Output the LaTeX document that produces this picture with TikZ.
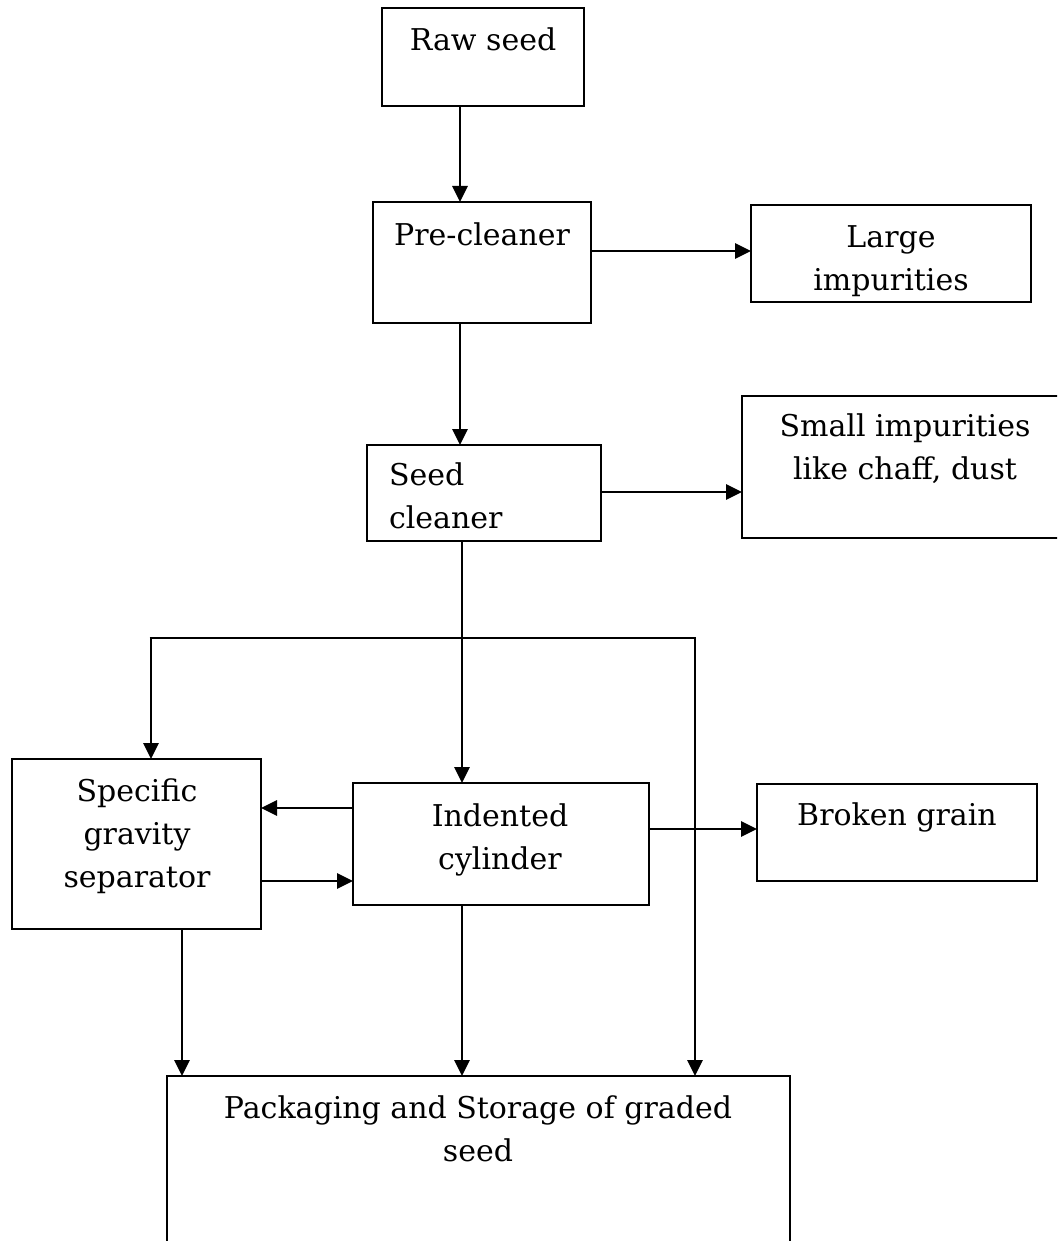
\documentclass[tikz,border=0pt]{standalone}
\usepackage{fontspec}
\setmainfont{DejaVu Serif}
\usetikzlibrary{arrows.meta}
\newcommand{\tp}{\rule{0pt}{24pt}}
\tikzset{
  box/.style={draw, line width=2.6pt, inner sep=0pt, outer sep=0pt, anchor=north west},
  lbl/.style={inner sep=0pt, outer sep=0pt, anchor=north, align=center, font=\fontsize{30}{43}\selectfont},
  lbll/.style={lbl, align=left, anchor=north west},
  conn/.style={line width=2.8pt},
  arr/.style={conn, -{Triangle[length=16pt,width=15pt]}}
}
\begin{document}
\begin{tikzpicture}[x=1pt,y=-1pt]
\useasboundingbox (0,0) rectangle (1057,1241);
\clip (0,0) rectangle (1057,1241);
\fill[white] (0,0) rectangle (1057,1241);
% boxes
\node[box, minimum width=202pt, minimum height=98pt] (raw) at (382,8) {};
\node[box, minimum width=218pt, minimum height=121pt] (pre) at (373,202) {};
\node[box, minimum width=280pt, minimum height=97pt] (large) at (751,205) {};
\node[box, minimum width=234pt, minimum height=96pt] (seed) at (367,445) {};
\node[box, minimum width=340pt, minimum height=142pt] (small) at (742,396) {};
\node[box, minimum width=249pt, minimum height=170pt] (spec) at (12,759) {};
\node[box, minimum width=296pt, minimum height=122pt] (ind) at (353,783) {};
\node[box, minimum width=280pt, minimum height=97pt] (broken) at (757,784) {};
\node[box, minimum width=623pt, minimum height=200pt] (pack) at (167,1076) {};
% labels
\node[lbl] (rawT) at (483,51-24) {\tp Raw seed};
\node[lbl] (preT) at (482,245-24) {\tp Pre-cleaner};
\node[lbl] (largeT) at (891,247-24) {\tp Large\\impurities};
\node[lbll] (seedT) at (389,485-24) {\tp Seed\\cleaner};
\node[lbl] (smallT) at (905,436-24) {\tp Small impurities\\like chaff, dust};
\node[lbl] (specT) at (137,801-24) {\tp Specific\\gravity\\separator};
\node[lbl] (indT) at (500,826-24) {\tp Indented\\cylinder};
\node[lbl] (brokenT) at (897,825-24) {\tp Broken grain};
\node[lbl] (packT) at (478,1118-24) {\tp Packaging and Storage of graded\\seed};
% helper coordinates
\coordinate (cA) at (460,0);
\coordinate (cB) at (462,0);
\coordinate (cL) at (151,638);
\coordinate (cR) at (695,638);
\coordinate (cS) at (182,0);
% connectors
\draw[arr] (raw.south -| cA) -- (pre.north -| cA);
\draw[arr] (pre.east |- 0,251) -- (large.west |- 0,251);
\draw[arr] (pre.south -| cA) -- (seed.north -| cA);
\draw[arr] (seed.east |- 0,492) -- (small.west |- 0,492);
\draw[arr] (seed.south -| cB) -- (ind.north -| cB);
\draw[conn] ([xshift=-1.4pt]cL) -- ([xshift=1.4pt]cR);
\draw[arr] (cL) -- (spec.north -| cL);
\draw[arr] (cR) -- (pack.north -| cR);
\draw[arr] (ind.west |- 0,808) -- (spec.east |- 0,808);
\draw[arr] (spec.east |- 0,881) -- (ind.west |- 0,881);
\draw[arr] (ind.east |- 0,829) -- (broken.west |- 0,829);
\draw[arr] (spec.south -| cS) -- (pack.north -| cS);
\draw[arr] (ind.south -| cB) -- (pack.north -| cB);
\end{tikzpicture}
\end{document}
